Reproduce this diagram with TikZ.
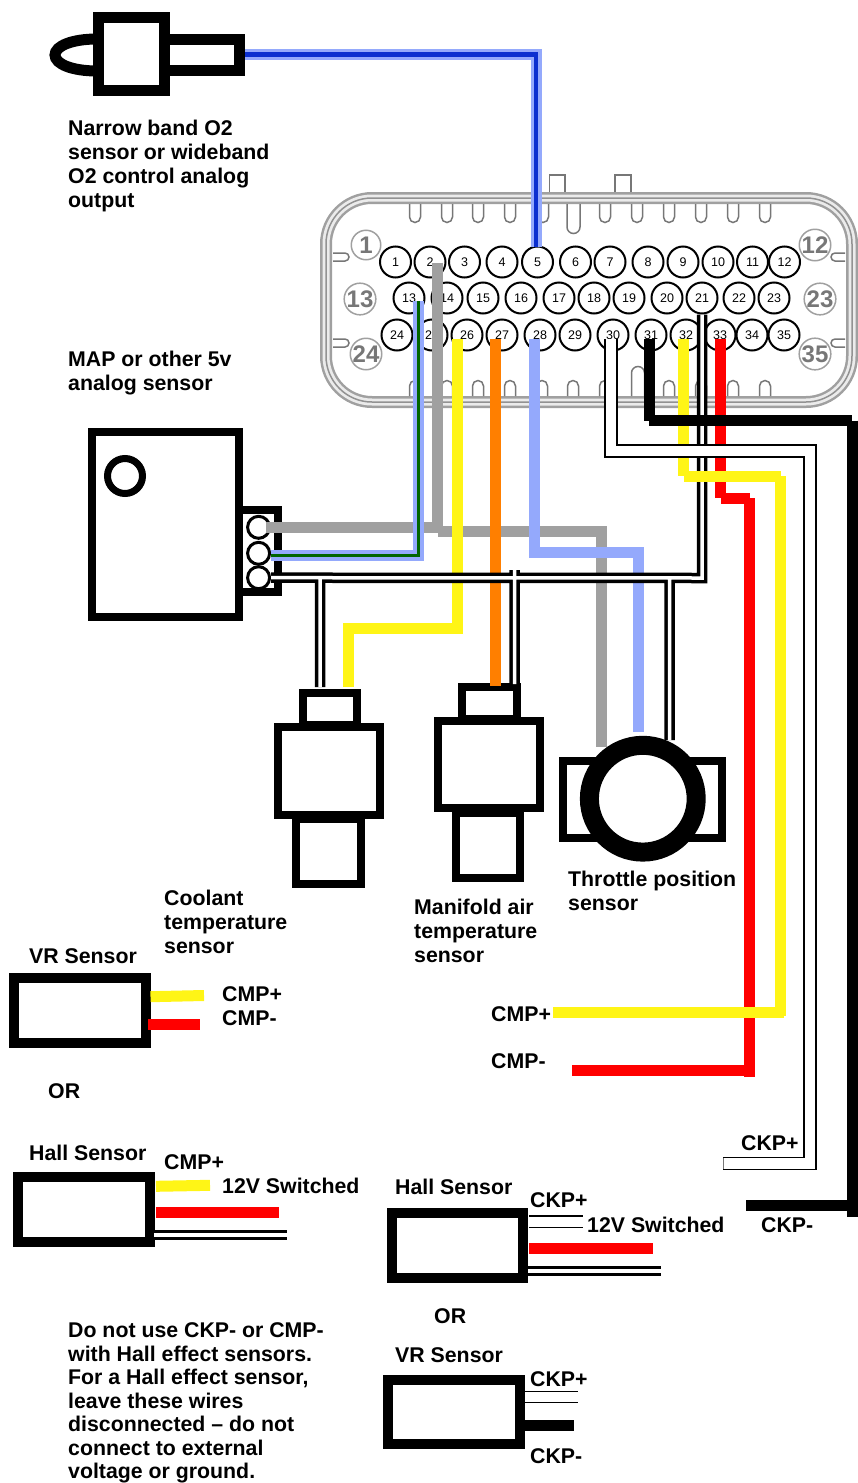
\documentclass[tikz,border=0pt]{standalone}
\usepackage{fontspec}
\setmainfont{Liberation Sans}
\usepackage{tikz}
\definecolor{wireyellow}{HTML}{FFF516}
\definecolor{wirered}{HTML}{FF0000}
\definecolor{wireorange}{HTML}{FF7F00}
\definecolor{wiregrey}{HTML}{A0A0A0}
\definecolor{wireblue}{HTML}{94A9FC}
\definecolor{wirenavy}{HTML}{0B2FD0}
\definecolor{wiregreen}{HTML}{006400}
\definecolor{shellgrey}{HTML}{777777}
\tikzset{cavity/.style={shape=circle, draw, fill=white, line width=2pt, inner sep=0pt,
    minimum size=31pt, font=\fontsize{12.5}{14}\selectfont}}
\tikzset{terminal/.style={shape=circle, draw, fill=white, line width=3pt, inner sep=0pt,
    minimum size=22pt}}
\tikzset{polemark/.style={shape=circle, draw=shellgrey!70, text=shellgrey, line width=1.5pt, inner sep=0pt,
    minimum size=29.5pt, font=\bfseries\fontsize{24}{26}\selectfont}}
\tikzset{housing/.style={shape=rectangle, draw, fill=white, line width=8pt, inner sep=0pt}}
\tikzset{block/.style={housing, line width=10pt}}
\tikzset{lettering/.style={anchor=west, inner sep=0pt, align=left,
    font=\bfseries\fontsize{21.3}{23.9}\selectfont}}
\tikzset{wire/.style={line width=11pt, line cap=butt, line join=miter}}
\tikzset{shieldpair/.style={double=white, draw=black, line width=3.5pt, double distance=3.5pt,
    line cap=butt, line join=miter}}
\tikzset{signalpair/.style={double=white, draw=black, line width=1.5pt, double distance=10.2pt,
    line cap=butt, line join=miter}}
\tikzset{toothdown/.pic={\draw[shellgrey, line width=1.5pt] (-5.5,0) -- (-5.5,13) arc[start angle=180, end angle=0, radius=5.5] -- (5.5,0);}}
\tikzset{toothup/.pic={\draw[shellgrey, line width=1.5pt] (-5.5,0) -- (-5.5,-10) arc[start angle=180, end angle=360, radius=5.5] -- (5.5,0);}}

\begin{document}
\begin{tikzpicture}[x=1pt, y=-1pt]
    \useasboundingbox (0,0) rectangle (858,1483);

    % connector shell
    \draw[line width=12pt, shellgrey!70, rounded corners=46pt] (326,198) rectangle (852,402);
    \draw[line width=7pt, white!85!shellgrey, rounded corners=46pt] (326,198) rectangle (852,402);
    \draw[line width=1.5pt, shellgrey!80, rounded corners=46pt] (326,198) rectangle (852,402);
    \draw[line width=1.5pt, shellgrey] (549.5,192) -- (549.5,175) -- (565,175) -- (565,192);
    \draw[line width=1.5pt, shellgrey] (615,192) -- (615,175) -- (631,175) -- (631,192);
    \path pic at (415,204) {toothdown} pic at (447,204) {toothdown} pic at (478,204) {toothdown}
          pic at (510,204) {toothdown} pic at (543,204) {toothdown} pic at (605,204) {toothdown}
          pic at (637,204) {toothdown} pic at (669,204) {toothdown} pic at (701,204) {toothdown}
          pic at (733,204) {toothdown} pic at (765,204) {toothdown};
    \draw[line width=1.5pt, shellgrey] (567,204) -- (567,227) arc[start angle=180, end angle=0, radius=6.5] -- (580,204);
    \path pic at (415,396) {toothup} pic at (447,396) {toothup} pic at (478,396) {toothup}
          pic at (510,396) {toothup} pic at (542,396) {toothup} pic at (573,396) {toothup}
          pic at (605,396) {toothup} pic at (669,396) {toothup} pic at (701,396) {toothup}
          pic at (733,396) {toothup} pic at (765,396) {toothup};
    \draw[line width=1.5pt, shellgrey] (631.5,396) -- (631.5,373) arc[start angle=180, end angle=360, radius=6.5] -- (644.5,396);
    \draw[line width=1.5pt, shellgrey] (333,253) -- (345,253) arc[start angle=-90, end angle=90, radius=4] -- (333,261);
    \draw[line width=1.5pt, shellgrey] (333,339) -- (345,339) arc[start angle=-90, end angle=90, radius=4] -- (333,347);
    \draw[line width=1.5pt, shellgrey] (845,253) -- (835,253) arc[start angle=270, end angle=90, radius=4] -- (845,261);
    \draw[line width=1.5pt, shellgrey] (845,339) -- (835,339) arc[start angle=270, end angle=90, radius=4] -- (845,347);

    \node(c1)[polemark] at (366,245) {1};
    \node(c13)[polemark] at (360,299) {13};
    \node(c24)[polemark] at (366,354) {24};
    \node(c12)[polemark] at (815,245) {12};
    \node(c23)[polemark] at (820,299) {23};
    \node(c35)[polemark] at (815,354) {35};

    \node(p1)[cavity] at (395.5,262) {1};
    \node(p2)[cavity] at (430,262) {2};
    \node(p3)[cavity] at (464.5,262) {3};
    \node(p4)[cavity] at (502,262) {4};
    \node(p5)[cavity] at (537.5,262) {5};
    \node(p6)[cavity] at (575.5,262) {6};
    \node(p7)[cavity] at (610,262) {7};
    \node(p8)[cavity] at (648,262) {8};
    \node(p9)[cavity] at (683,262) {9};
    \node(p10)[cavity] at (718,262) {10};
    \node(p11)[cavity] at (752.5,262) {11};
    \node(p12)[cavity] at (784.5,262) {12};
    \node(p13)[cavity] at (409,298) {13};
    \node(p14)[cavity] at (447,298) {14};
    \node(p15)[cavity] at (483,298) {15};
    \node(p16)[cavity] at (521,298) {16};
    \node(p17)[cavity] at (559,298) {17};
    \node(p18)[cavity] at (594,298) {18};
    \node(p19)[cavity] at (629,298) {19};
    \node(p20)[cavity] at (667,298) {20};
    \node(p21)[cavity] at (702,298) {21};
    \node(p22)[cavity] at (739,298) {22};
    \node(p23)[cavity] at (774,298) {23};
    \node(p24)[cavity] at (397,335) {24};
    \node(p25)[cavity] at (432,335) {25};
    \node(p26)[cavity] at (467,335) {26};
    \node(p27)[cavity] at (502,335) {27};
    \node(p28)[cavity] at (540,335) {28};
    \node(p29)[cavity] at (575,335) {29};
    \node(p30)[cavity] at (613,335) {30};
    \node(p31)[cavity] at (651,335) {31};
    \node(p32)[cavity] at (686,335) {32};
    \node(p33)[cavity] at (720,335) {33};
    \node(p34)[cavity] at (752,335) {34};
    \node(p35)[cavity] at (784,335) {35};

    % O2 sensor
    \draw[line width=11pt] (97,39) .. controls (72,39) and (55,46) .. (55,55) .. controls (55,64) and (72,71) .. (97,71);
    \node(o2stem)[housing, line width=11pt, minimum width=75pt, minimum height=31pt] at (202,54.5) {};
    \node(o2body)[housing, line width=11pt, minimum width=66.5pt, minimum height=73pt] at (131.5,54) {};

    % MAP sensor
    \node(mapplug)[housing, minimum width=39.5pt, minimum height=82pt] at (258.7,551) {};
    \node(mapbody)[housing, minimum width=147pt, minimum height=185pt] at (165.5,524.5) {};
    \node(maphole)[shape=circle, draw, line width=7pt, inner sep=0pt, minimum size=35pt] at (125,476) {};
    \node(m1)[terminal] at (258.6,527.3) {};
    \node(m2)[terminal] at (258.6,553.3) {};
    \node(m3)[terminal] at (258.6,577.7) {};

    % coolant temperature sensor
    \node(cltneck)[housing, minimum width=54.6pt, minimum height=32pt] at (330,709.3) {};
    \node(cltbody)[housing, minimum width=102pt, minimum height=87.7pt] at (329.3,771.2) {};
    \node(clttip)[housing, minimum width=64.7pt, minimum height=65pt] at (328.7,851.8) {};

    % manifold air temperature sensor
    \node(matneck)[housing, minimum width=55pt, minimum height=32pt] at (489.8,703.3) {};
    \node(matbody)[housing, minimum width=102pt, minimum height=87pt] at (488.7,764.8) {};
    \node(mattip)[housing, minimum width=64.6pt, minimum height=65pt] at (488,845.2) {};

    % throttle position sensor
    \node(tpswing)[housing, minimum width=158.7pt, minimum height=76.4pt] at (642.7,799.5) {};

    % crank and cam sensors
    \node(vrcmp)[block, minimum width=131.4pt, minimum height=65pt] at (80,1010.7) {};
    \node(hallcmp)[block, minimum width=131.7pt, minimum height=65pt] at (83.8,1209.2) {};
    \node(hallckp)[block, minimum width=131pt, minimum height=65pt] at (457.5,1245.2) {};
    \node(vrckp)[block, minimum width=132pt, minimum height=64.3pt] at (454,1412.2) {};

    % wire ends and bends
    \coordinate(g1) at (437.7,262.7);
    \coordinate(g2) at (437.7,532.7);
    \coordinate(g3) at (265.7,527.3);
    \coordinate(g4) at (443,527.3);
    \coordinate(g5) at (438,531.8);
    \coordinate(g6) at (601,531.8);
    \coordinate(g7) at (601,746.7);
    \coordinate(b0) at (271,555.7);
    \coordinate(b1) at (418.5,300.7);
    \coordinate(b2) at (418.5,555.7);
    \coordinate(b3) at (534,339.3);
    \coordinate(b4) at (534,552.8);
    \coordinate(b5) at (638.8,552.8);
    \coordinate(b6) at (638.8,731.7);
    \coordinate(n1) at (536,247);
    \coordinate(y1) at (457,339.3);
    \coordinate(y2) at (457,628.8);
    \coordinate(y3) at (348,628.8);
    \coordinate(y4) at (348,686.7);
    \coordinate(o1) at (495.3,339.3);
    \coordinate(o2) at (495.3,685.7);
    \coordinate(r1) at (720.7,339.3);
    \coordinate(r2) at (720.7,498);
    \coordinate(r3) at (721,498);
    \coordinate(r4) at (750,498);
    \coordinate(r5) at (749.8,498);
    \coordinate(r6) at (749.8,1077.3);
    \coordinate(r7) at (749.8,1070.7);
    \coordinate(r8) at (572,1070.7);
    \coordinate(s1) at (683.7,339.3);
    \coordinate(s2) at (683.7,476.3);
    \coordinate(s3) at (684,476.3);
    \coordinate(s4) at (781,476.3);
    \coordinate(s5) at (780.7,476.3);
    \coordinate(s6) at (780.7,1016);
    \coordinate(s7) at (784,1012.5);
    \coordinate(s8) at (553,1012.5);
    \coordinate(k1) at (649.5,339.3);
    \coordinate(k2) at (649.5,420.6);
    \coordinate(k3) at (649.3,420.6);
    \coordinate(k4) at (852,420.6);
    \coordinate(k5) at (852,420.6);
    \coordinate(k6) at (852,1216.7);
    \coordinate(k7) at (857,1205.3);
    \coordinate(k8) at (745.7,1205.3);
    \coordinate(w1) at (611,339.3);
    \coordinate(w2) at (611,451);
    \coordinate(w3) at (810,451);
    \coordinate(w4) at (810,1163.4);
    \coordinate(w5) at (723,1163.4);
    \coordinate(w6) at (723,1157.5);
    \coordinate(w7) at (723,1169.3);
    \coordinate(busR) at (702,578);
    \coordinate(busA) at (320,578);
    \coordinate(busB) at (514.6,570);
    \coordinate(busC) at (669.5,578);
    \coordinate(tipA) at (320,687);
    \coordinate(tipB) at (514.6,684);
    \coordinate(tipC) at (669.5,740);

    \draw [wire][draw=wiregrey] (g1) -- (g2) (g3) -- (g4) (g5) -- (g6) -- (g7);
    \draw [wire][draw=wireblue] (b0) -- (b2) -- (b1);
    \draw [wire][draw=wiregreen, line width=3.4pt] (b0) -- (b2) -- (b1);
    \draw [wire][draw=wireyellow] (y1) -- (y2) -- (y3) -- (y4);
    \draw [wire][draw=wireorange] (o1) -- (o2);
    \draw [wire][draw=wireblue] (b3) -- (b4) -- (b5) -- (b6);
    \draw [wire][draw=wireblue] (o2stem.east) -| (n1);
    \draw [wire][draw=wirenavy, line width=4.5pt] (o2stem.east) -| (n1);
    \draw [wire][draw=wirered] (r1) -- (r2) (r3) -- (r4) (r5) -- (r6) (r7) -- (r8);

    \draw [shieldpair] (p21.south) -- (busR) -- (m3.east) (busA) -- (tipA) (busB) -- (tipB) (busC) -- (tipC);

    \draw [wire][draw=wireyellow] (s1) -- (s2) (s3) -- (s4) (s5) -- (s6) (s7) -- (s8);
    \draw [wire][draw=black] (k1) -- (k2) (k3) -- (k4) (k5) -- (k6) (k7) -- (k8);
    \draw [signalpair] (w1) -- (w2) -- (w3) -- (w4) -- (w5);
    \draw [line width=1pt, shellgrey] (w6) -- (w7);

    % drawn over the wire ends
    \node(tpsring)[shape=circle, draw, fill=white, line width=19pt, inner sep=0pt, minimum size=106.8pt] at (642.8,798.7) {};

    % sensor leads
    \coordinate(va) at (150.5,996.7);
    \coordinate(vb) at (204,995.5);
    \coordinate(vc) at (148,1024.3);
    \coordinate(vd) at (200,1024.3);
    \coordinate(ha) at (156,1186.3);
    \coordinate(hb) at (210,1185.3);
    \coordinate(hc) at (156,1212.3);
    \coordinate(hd) at (279,1212.3);
    \coordinate(he) at (154,1234.8);
    \coordinate(hf) at (287,1234.8);
    \coordinate(ka) at (529,1221.8);
    \coordinate(kb) at (583,1221.8);
    \coordinate(kc) at (529,1248.3);
    \coordinate(kd) at (653,1248.3);
    \coordinate(ke) at (528,1270.8);
    \coordinate(kf) at (661,1270.8);
    \coordinate(la) at (525,1397.2);
    \coordinate(lb) at (578,1397.2);
    \coordinate(lc) at (525,1425);
    \coordinate(ld) at (574,1425);
    \draw [wire][draw=wireyellow] (va) -- (vb);
    \draw [wire][draw=wirered] (vc) -- (vd);
    \draw [wire][draw=wireyellow] (ha) -- (hb);
    \draw [wire][draw=wirered] (hc) -- (hd);
    \draw [shieldpair] (he) -- (hf);
    \draw [signalpair] (ka) -- (kb);
    \draw [wire][draw=wirered] (kc) -- (kd);
    \draw [shieldpair] (ke) -- (kf);
    \draw [signalpair, line width=1.1pt] (la) -- (lb);
    \draw [wire][draw=black] (lc) -- (ld);

    % texts
    \node(t1)[lettering] at (68,166) {Narrow band O2\\sensor or wideband\\O2 control analog\\output};
    \node(t2)[lettering] at (68,373) {MAP or other 5v\\analog sensor};
    \node(t3)[lettering] at (164,922) {Coolant\\temperature\\sensor};
    \node(t4)[lettering] at (414,931) {Manifold air\\temperature\\sensor};
    \node(t5)[lettering] at (568,891) {Throttle position\\sensor};
    \node(t6)[lettering] at (29,956) {VR Sensor};
    \node(t7)[lettering] at (222,994) {CMP+};
    \node(t8)[lettering] at (222,1018) {CMP-};
    \node(t9)[lettering] at (491,1014) {CMP+};
    \node(t10)[lettering] at (491,1061) {CMP-};
    \node(t11)[lettering] at (48,1091) {OR};
    \node(t12)[lettering] at (29,1153) {Hall Sensor};
    \node(t13)[lettering] at (164,1162) {CMP+};
    \node(t14)[lettering] at (222,1186) {12V Switched};
    \node(t15)[lettering] at (395,1187) {Hall Sensor};
    \node(t16)[lettering] at (530,1200) {CKP+};
    \node(t17)[lettering] at (587,1225) {12V Switched};
    \node(t18)[lettering] at (741,1143) {CKP+};
    \node(t19)[lettering] at (761,1225) {CKP-};
    \node(t20)[lettering] at (434,1316) {OR};
    \node(t21)[lettering] at (395,1355) {VR Sensor};
    \node(t22)[lettering] at (530,1379) {CKP+};
    \node(t23)[lettering] at (530,1456) {CKP-};
    \node(t24)[lettering, font=\bfseries\fontsize{21.3}{23.5}\selectfont] at (68,1403) {Do not use CKP- or CMP-\\with Hall effect sensors.\\For a Hall effect sensor,\\leave these wires\\disconnected -- do not\\connect to external\\voltage or ground.};
\end{tikzpicture}
\end{document}
